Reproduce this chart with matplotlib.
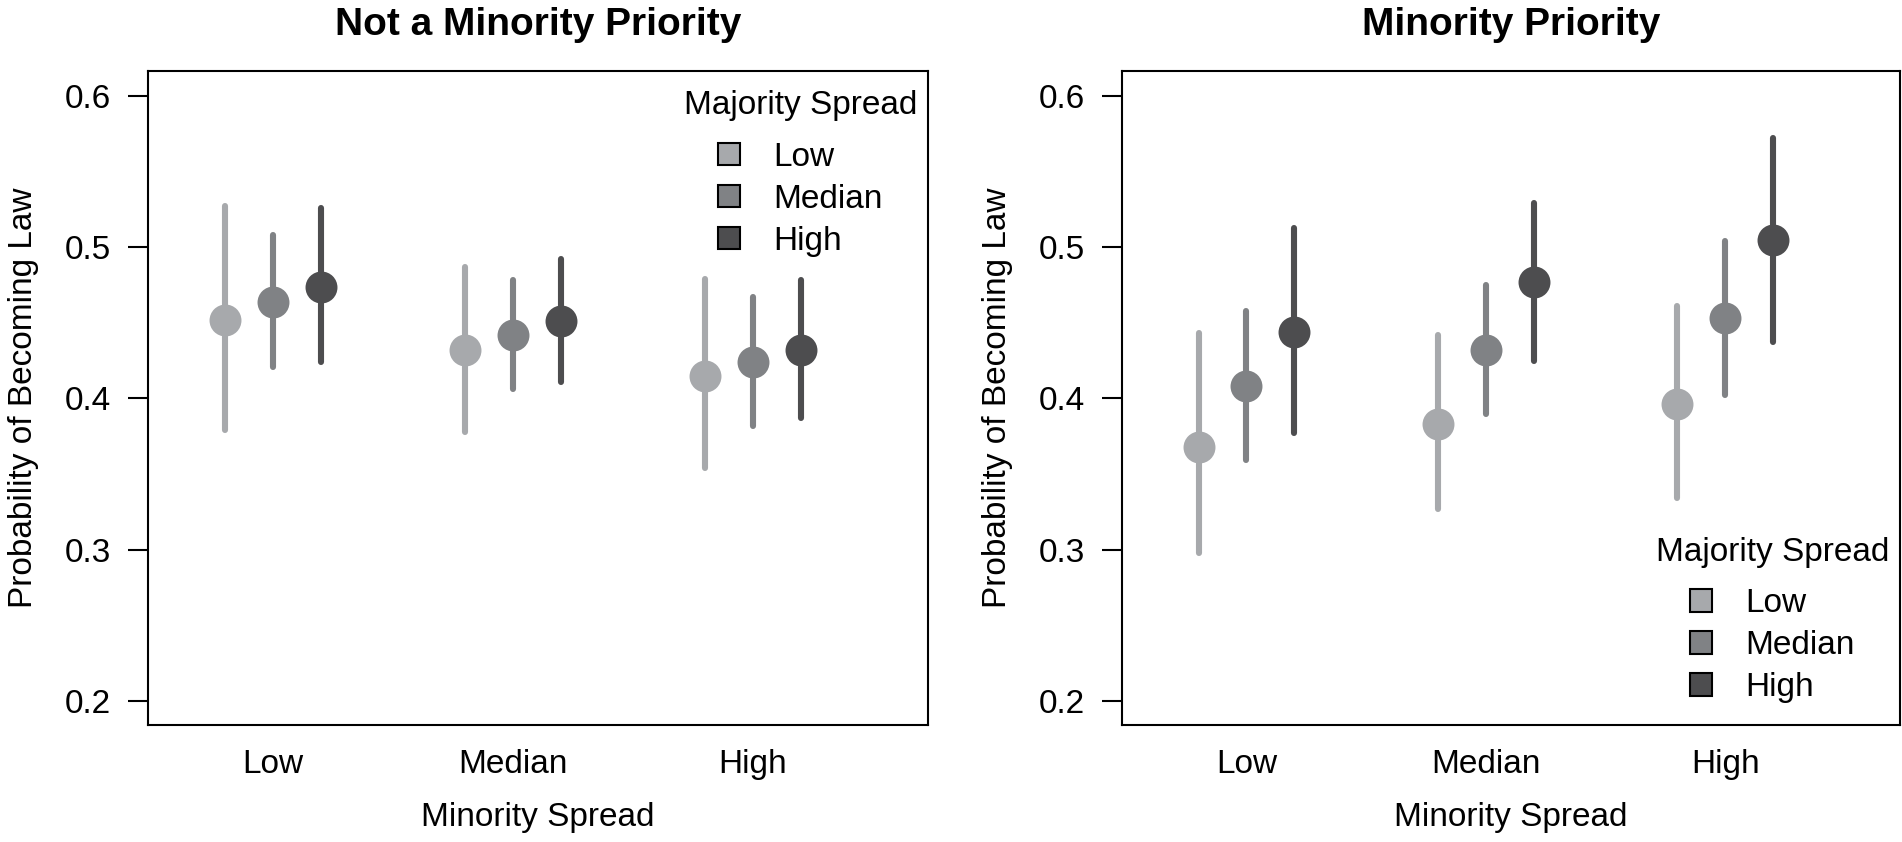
import numpy as np
import matplotlib.pyplot as plt
from matplotlib.patches import Patch

plt.rcParams['font.family'] = ['Liberation Sans', 'DejaVu Sans']

minority = ["Low", "Median", "High"]
majority = ["Low", "Median", "High"]
colors = ["#A7A9AC", "#808285", "#4D4D4F"]

# Not a Minority Priority: rows = majority spread, cols = minority spread
np_est = [[0.452, 0.432, 0.415],
          [0.464, 0.442, 0.424],
          [0.474, 0.451, 0.432]]
np_lo = [[0.379, 0.378, 0.354],
         [0.421, 0.406, 0.382],
         [0.424, 0.411, 0.387]]
np_hi = [[0.527, 0.487, 0.479],
         [0.508, 0.478, 0.467],
         [0.526, 0.492, 0.478]]

# Minority Priority
p_est = [[0.368, 0.383, 0.396],
         [0.408, 0.432, 0.453],
         [0.444, 0.477, 0.505]]
p_lo = [[0.298, 0.327, 0.334],
        [0.359, 0.390, 0.402],
        [0.377, 0.425, 0.437]]
p_hi = [[0.443, 0.442, 0.461],
        [0.458, 0.475, 0.504],
        [0.513, 0.529, 0.572]]

fs = 24
fig = plt.figure(figsize=(19.02, 8.42), dpi=100)
ax1 = fig.add_axes([0.0778, 0.139, 0.4101, 0.7767])
ax2 = fig.add_axes([0.5899, 0.139, 0.4090, 0.7767])


def panel(ax, title, est, lo, hi, legloc):
    x = np.arange(1, 4)
    for j in range(3):
        xs = x + (j - 1) * 0.2
        for k in range(3):
            ax.plot([xs[k], xs[k]], [lo[j][k], hi[j][k]], color=colors[j],
                    lw=4.4, solid_capstyle='round', zorder=2)
        ax.plot(xs, est[j], 'o', color=colors[j], ms=23, mew=0, zorder=3)
    ax.set_xlim(0.48, 3.73)
    ax.set_ylim(0.1841, 0.6165)
    ax.set_xticks(x)
    ax.set_xticklabels(minority, fontsize=fs)
    ax.set_yticks([0.2, 0.3, 0.4, 0.5, 0.6])
    ax.set_yticklabels(["0.2", "0.3", "0.4", "0.5", "0.6"], fontsize=fs)
    ax.tick_params(axis='x', length=0, pad=17)
    ax.tick_params(axis='y', length=14.4, width=1.5, pad=12)
    for s in ax.spines.values():
        s.set_linewidth(1.5)
    ax.text(0.5, 1.07, title, transform=ax.transAxes, ha='center',
            va='center', fontsize=28, fontweight='bold')
    ax.set_xlabel("Minority Spread", fontsize=fs, labelpad=16)
    ax.set_ylabel("Probability of Becoming Law", fontsize=fs, labelpad=19)
    handles = [Patch(facecolor=c, edgecolor='black', lw=1.5) for c in colors]
    if legloc == 'upper right':
        anchor = (0.986, 0.971)
    else:
        anchor = (0.986, 0.033)
    leg = ax.legend(handles, majority, title="Majority Spread", loc=legloc,
                    bbox_to_anchor=anchor, frameon=False, fontsize=fs,
                    title_fontsize=fs, borderpad=0, borderaxespad=0,
                    handlelength=0.66, handleheight=0.66,
                    handletextpad=1.0, labelspacing=0.33)
    leg._legend_box.sep = 15


panel(ax1, "Not a Minority Priority", np_est, np_lo, np_hi, 'upper right')
panel(ax2, "Minority Priority", p_est, p_lo, p_hi, 'lower right')

fig.savefig("out.png", dpi=100)
